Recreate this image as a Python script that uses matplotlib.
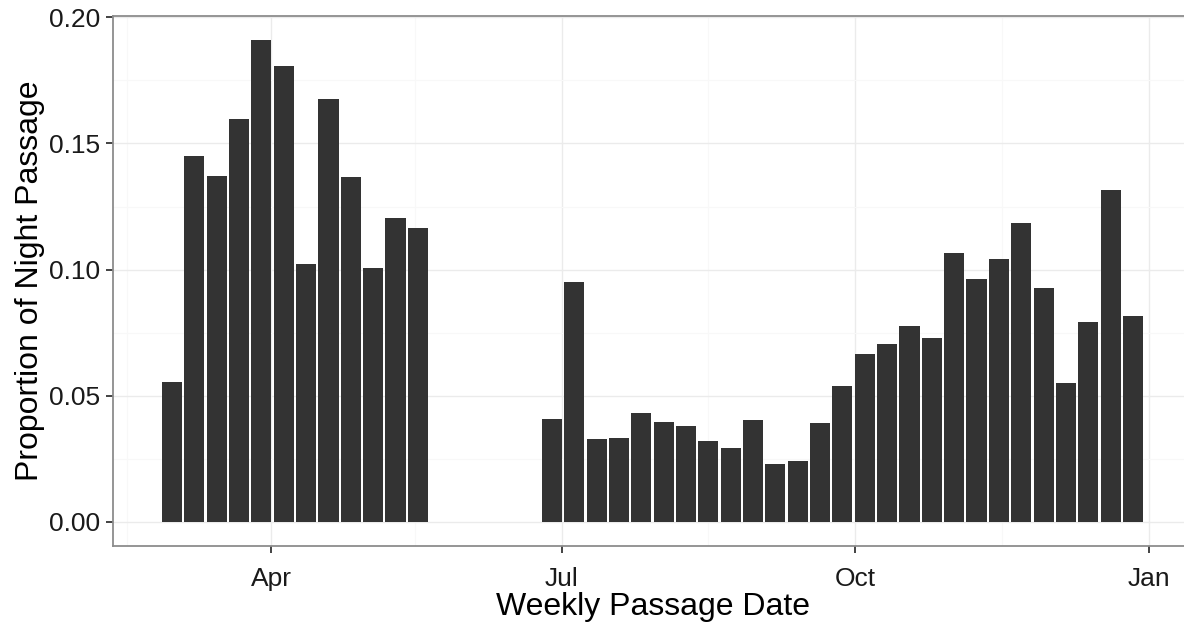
import matplotlib
matplotlib.use("Agg")
import matplotlib.pyplot as plt
import matplotlib.dates as mdates
import numpy as np
import pandas as pd

# weekly bins, first week starting 1 March; 5 weeks with no data in between
week_start = "2013-03-01"
n_weeks = 44
night_prop = [
    0.0556, 0.1449, 0.1370, 0.1596, 0.1909, 0.1808, 0.1024, 0.1678,
    0.1367, 0.1008, 0.1204, 0.1165,
    np.nan, np.nan, np.nan, np.nan, np.nan,
    0.0409, 0.0952, 0.0328, 0.0332, 0.0430, 0.0397, 0.0382, 0.0320,
    0.0292, 0.0402, 0.0231, 0.0242, 0.0391, 0.0537, 0.0664, 0.0706,
    0.0776, 0.0730, 0.1067, 0.0964, 0.1043, 0.1184, 0.0927, 0.0550,
    0.0791, 0.1314, 0.0815,
]
month_ticks = ["2013-04-01", "2013-07-01", "2013-10-01", "2014-01-01"]
month_labels = ["Apr", "Jul", "Oct", "Jan"]
minor_ticks = ["2013-02-15", "2013-05-16", "2013-08-16", "2013-11-16"]
y_ticks = [0.0, 0.05, 0.10, 0.15, 0.20]

plt.rcParams["font.family"] = ["Liberation Sans", "DejaVu Sans"]

weeks = pd.date_range(week_start, periods=n_weeks, freq="7D")
x = mdates.date2num(weeks.to_pydatetime())
y = np.array(night_prop, dtype=float)
ok = ~np.isnan(y)

fig = plt.figure(figsize=(11.84, 6.25), dpi=100)
ax = fig.add_axes([113 / 1184, 1 - 546 / 625, 1079 / 1184, 530 / 625])

ax.bar(x[ok], y[ok], width=6.3, color="#333333", edgecolor="none", zorder=3)

xmin = mdates.date2num(pd.Timestamp("2013-02-10 12:00"))
xmax = mdates.date2num(pd.Timestamp("2014-01-14 12:00"))
ax.set_xlim(xmin, xmax)
ax.set_ylim(-0.00955, 0.2005)

ax.set_xticks(mdates.date2num(pd.to_datetime(month_ticks).to_pydatetime()))
ax.set_xticklabels(month_labels)
ax.set_xticks(mdates.date2num(pd.to_datetime(minor_ticks).to_pydatetime()), minor=True)
ax.set_yticks(y_ticks)
ax.set_yticklabels([f"{v:.2f}" for v in y_ticks])
ax.set_yticks([0.025, 0.075, 0.125, 0.175], minor=True)

ax.grid(which="major", color="#ebebeb", linewidth=1.0, zorder=0)
ax.grid(which="minor", color="#f8f8f8", linewidth=0.8, zorder=0)
ax.set_axisbelow(True)

for side in ["left", "bottom", "top", "right"]:
    ax.spines[side].set_color("#8c8c8c")
    ax.spines[side].set_linewidth(1.3)

ax.tick_params(which="major", length=5, width=1.2, color="#222222",
               labelsize=19, labelcolor="#1a1a1a")
ax.tick_params(axis="x", which="major", pad=10)
ax.tick_params(axis="y", which="major", pad=4)
ax.tick_params(which="minor", length=0)

ax.set_xlabel("Weekly Passage Date", fontsize=23, labelpad=1)
ax.set_ylabel("Proportion of Night Passage", fontsize=23, labelpad=3)

fig.savefig("out.png", dpi=100)
